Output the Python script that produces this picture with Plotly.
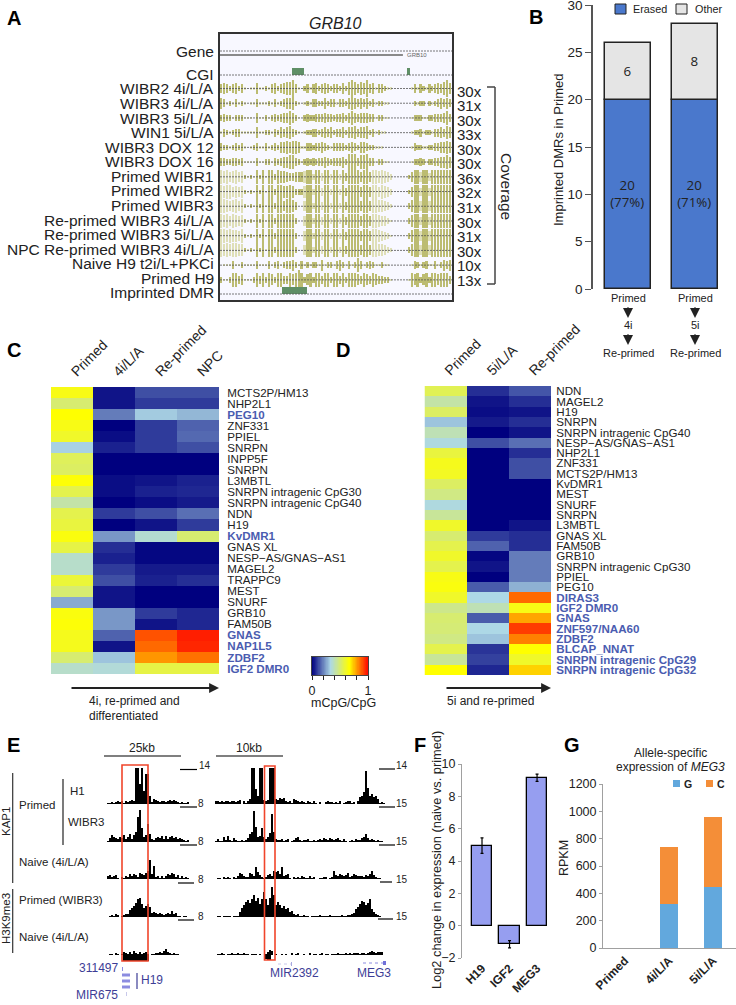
import plotly.graph_objects as go

W, H = 736, 1005
FONT = "Liberation Sans"
DARK = "#222222"
BLUE_LABEL = "#4a5cb0"
GENE_BLUE = "#3d3d96"
RED_BOX = "#f0452b"

# Panel A: coverage tracks, half height in each genome bin
A_LABELS = ["WIBR2 4i/L/A", "WIBR3 4i/L/A", "WIBR3 5i/L/A", "WIN1 5i/L/A", "WIBR3 DOX 12", "WIBR3 DOX 16",
            "Primed WIBR1", "Primed WIBR2", "Primed WIBR3", "Re-primed WIBR3 4i/L/A", "Re-primed WIBR3 5i/L/A",
            "NPC Re-primed WIBR3 4i/L/A", "Naive H9 t2i/L+PKCi", "Primed H9"]
A_COVERAGE = ["30x", "31x", "30x", "33x", "30x", "30x", "36x", "32x", "31x", "30x", "31x", "30x", "10x", "13x"]
A_TRACKS = [
    [3,4,3,2,3,4,2,3,1,0,1,1,4,1,1,2,1,3,4,2,3,4,5,5,6,3,1,0,2,3,1,3,4,2,3,4,3,2,3,3,2,4,2,5,6,5,3,5,4,6,3,4,1,3,3,2,1,1,0,0,0,0,0,0,1,3,1,3,2,1,3,2,3,4,3,5,6,4],
    [4,3,1,2,1,3,1,2,1,0,1,1,3,1,1,1,2,1,3,1,2,3,4,4,5,2,1,0,1,2,1,3,3,2,2,4,2,3,3,1,3,3,2,4,5,4,3,4,3,4,2,3,1,2,2,1,1,0,0,0,0,0,0,0,0,2,1,2,2,0,2,1,2,3,4,3,4,3],
    [2,3,2,2,1,2,2,2,1,1,1,0,4,1,1,2,1,2,3,2,3,4,4,5,4,2,1,0,2,3,2,2,3,3,3,4,3,3,2,3,3,4,2,4,5,4,3,4,4,4,3,3,1,2,2,1,1,0,0,0,0,0,0,0,1,2,2,2,1,1,2,2,3,3,3,4,5,3],
    [1,3,2,1,2,3,3,1,1,1,1,1,4,1,1,2,2,1,3,2,4,3,4,5,3,2,1,0,1,2,2,3,3,2,3,4,3,4,2,3,3,4,2,4,4,5,3,4,4,5,2,3,1,2,1,1,0,0,0,0,0,0,0,0,1,2,2,3,1,2,2,1,3,3,4,3,5,4],
    [3,2,2,1,2,3,2,3,1,0,1,2,3,1,1,3,1,2,3,2,4,4,5,4,5,5,4,1,1,3,3,2,3,3,4,3,2,1,3,3,3,3,2,3,4,3,2,4,4,3,2,2,1,1,1,0,0,0,0,0,0,0,0,0,1,3,2,2,1,1,2,2,3,3,4,4,5,4],
    [3,3,2,2,3,3,2,3,1,1,1,1,3,1,1,2,2,1,3,2,3,4,4,5,5,3,2,1,2,3,2,3,2,3,3,4,3,2,3,3,3,4,2,6,6,6,3,5,5,6,3,3,1,2,2,1,1,0,0,0,0,0,0,0,1,2,2,3,2,1,2,2,3,3,4,4,5,4],
    [7,6,7,5,6,7,5,6,2,1,2,1,7,2,7,1,7,7,3,7,6,6,5,4,4,5,5,5,6,7,7,3,7,7,4,7,7,3,7,7,3,7,4,7,7,7,7,5,7,7,5,7,7,6,7,6,5,3,0,0,0,0,0,2,5,7,7,5,7,7,4,7,7,7,7,7,7,7],
    [7,6,7,7,5,6,5,6,2,1,2,1,7,2,7,1,7,7,3,7,7,6,6,7,6,3,3,3,6,7,7,3,7,7,4,7,7,3,7,7,3,7,4,7,7,7,7,5,7,7,5,7,7,5,7,6,5,3,0,0,0,0,0,2,5,7,7,4,7,7,4,7,7,7,7,7,7,7],
    [7,7,6,5,6,7,5,7,2,1,2,1,7,2,7,1,7,7,3,7,7,5,7,7,6,4,0,0,5,7,7,3,7,7,4,7,7,3,7,7,3,7,4,7,7,7,7,5,7,7,5,7,7,6,6,5,4,2,0,0,0,0,0,3,6,7,7,5,7,7,5,7,7,7,7,7,7,7],
    [7,6,7,5,7,6,5,6,2,1,2,1,7,2,7,1,7,7,3,7,7,7,7,7,7,3,0,0,5,7,7,3,7,7,4,7,7,3,7,7,3,7,4,7,7,7,7,5,7,7,5,7,7,6,5,5,3,1,0,0,0,0,0,3,6,7,7,4,7,7,4,7,7,7,7,7,7,7],
    [7,7,6,7,6,6,5,7,2,1,2,1,7,2,7,1,7,7,3,7,7,7,7,7,7,3,0,0,5,7,7,3,7,7,4,7,7,3,7,7,3,7,4,7,7,7,7,5,7,7,5,7,7,6,5,4,3,1,0,0,0,0,0,3,6,7,7,5,7,7,5,7,7,7,7,7,7,7],
    [7,6,7,6,7,7,6,6,2,1,2,1,7,2,7,1,7,7,3,7,7,7,7,7,7,3,0,0,5,7,7,3,7,7,4,7,7,3,7,7,3,7,4,7,7,7,7,5,7,7,5,7,7,6,6,5,3,2,0,0,0,0,0,3,6,7,7,5,7,7,5,7,7,7,7,7,7,7],
    [0,1,1,1,3,1,1,2,1,1,1,1,3,1,1,1,3,1,2,3,1,2,3,3,4,2,1,3,1,2,1,2,2,1,4,1,2,2,1,3,4,2,1,3,1,2,5,3,1,2,3,2,1,1,2,1,1,0,0,0,0,0,0,0,1,3,2,1,2,3,1,1,3,1,2,4,3,4],
    [2,1,1,2,5,5,3,4,1,1,1,2,5,3,5,2,5,4,2,5,5,3,3,5,4,5,7,5,2,4,5,2,5,5,3,5,5,2,5,5,3,5,2,5,5,5,4,3,5,4,3,5,4,3,3,2,2,1,0,0,0,0,0,1,5,4,5,2,4,5,2,5,5,4,5,5,5,3],
]
# genome bins where the primed tracks read paler in the picture
A_PALE_BINS = [0, 1, 2, 3, 4, 5, 6, 7, 28, 31, 34, 37, 40, 51, 52, 53, 54, 55, 56, 57, 67, 70]
A_CGI_START = [24.2, 62.9]
A_CGI_END = [28.3, 64.0]
A_DMR_START = [20.8]
A_DMR_END = [29.4]

# Panel B
B_GROUPS = ["4i", "5i"]
B_ERASED = [20, 20]
B_OTHER = [6, 8]
B_ERASED_TEXT = ["20<br>(77%)", "20<br>(71%)"]

# Panel C
C_COLUMNS = ["Primed", "4i/L/A", "Re-primed", "NPC"]
C_GENES = ["MCTS2P/HM13", "NHP2L1", "PEG10", "ZNF331", "PPIEL", "SNRPN", "INPP5F", "SNRPN", "L3MBTL",
           "SNRPN intragenic CpG30", "SNRPN intragenic CpG40", "NDN", "H19", "KvDMR1", "GNAS XL",
           "NESP\u2212AS/GNAS\u2212AS1", "MAGEL2", "TRAPPC9", "MEST", "SNURF", "GRB10", "FAM50B", "GNAS",
           "NAP1L5", "ZDBF2", "IGF2 DMR0"]
C_BOLD = ["PEG10", "KvDMR1", "GNAS", "NAP1L5", "ZDBF2", "IGF2 DMR0"]
C_VALUES = [
    [.63, .03, .12, .12], [.50, .03, .09, .09], [.66, .19, .31, .28], [.63, .00, .09, .15],
    [.60, .02, .09, .16], [.32, .05, .09, .12], [.53, .00, .00, .00], [.52, .00, .00, .00],
    [.65, .02, .03, .05], [.55, .02, .05, .06], [.42, .00, .02, .04], [.55, .09, .12, .17],
    [.57, .00, .03, .09], [.64, .23, .36, .50], [.56, .07, .01, .01], [.37, .05, .01, .01],
    [.37, .09, .04, .04], [.58, .12, .05, .07], [.50, .03, .00, .00], [.26, .03, .00, .00],
    [.64, .23, .09, .06], [.65, .23, .03, .06], [.62, .15, .89, .96], [.62, .03, .86, .95],
    [.50, .30, .80, .85], [.37, .35, .56, .56],
]

# Panel D
D_COLUMNS = ["Primed", "5i/L/A", "Re-primed"]
D_GENES = ["NDN", "MAGEL2", "H19", "SNRPN", "SNRPN intragenic CpG40", "NESP\u2212AS/GNAS\u2212AS1", "NHP2L1", "ZNF331",
           "MCTS2P/HM13", "KvDMR1", "MEST", "SNURF", "SNRPN", "L3MBTL", "GNAS XL", "FAM50B", "GRB10",
           "SNRPN intragenic CpG30", "PPIEL", "PEG10", "DIRAS3", "IGF2 DMR0", "GNAS", "ZNF597/NAA60", "ZDBF2",
           "BLCAP_NNAT", "SNRPN intragenic CpG29", "SNRPN intragenic CpG32"]
D_BOLD = ["DIRAS3", "IGF2 DMR0", "GNAS", "ZNF597/NAA60", "ZDBF2", "BLCAP_NNAT", "SNRPN intragenic CpG29",
          "SNRPN intragenic CpG32"]
D_VALUES = [
    [.54, .07, .13], [.42, .03, .07], [.52, .02, .03], [.30, .04, .07], [.40, .00, .03], [.34, .12, .17],
    [.57, .00, .07], [.62, .00, .12], [.61, .00, .12], [.52, .00, .00], [.47, .00, .00], [.34, .00, .00],
    [.44, .00, .00], [.60, .00, .03], [.50, .09, .07], [.55, .15, .07], [.60, .01, .19], [.55, .03, .19],
    [.63, .00, .19], [.64, .14, .27], [.60, .33, .86], [.46, .40, .63], [.50, .14, .78], [.49, .33, .92],
    [.47, .30, .83], [.55, .08, .66], [.44, .10, .60], [.66, .06, .72],
]

COLOR_STEPS = [i / 100 for i in range(101)]
COLOR_TICKS = [0, 0.2, 0.4, 0.6, 0.8, 1]
COLOR_TICK_TEXT = ["0", "", "", "", "", "1"]

# Panel E: signal tracks, left window (25kb) and right window (10kb)
E_H1_LEFT = [1,1,2,1,2,3,2,3,1,3,2,3,4,3,36,36,20,36,13,30,30,8,2,5,4,3,2,3,3,2,3,4,3,4,3,2,1,2,1,1,2,0]
E_WIBR3_LEFT = [1,4,7,5,4,3,5,4,7,3,5,8,3,7,10,25,32,14,5,7,18,8,3,2,4,5,4,6,3,6,3,5,6,4,5,3,4,3,2,1,2,0]
E_NAIVE_KAP1_LEFT = [3,4,2,3,4,1,0,2,1,3,2,5,3,5,4,2,6,5,4,6,8,19,5,13,2,3,1,3,1,3,5,4,6,5,2,4,1,3,1,2,1,0]
E_PRIMED_K9_LEFT = [0,1,2,1,3,2,0,1,2,3,3,7,9,11,14,18,19,13,9,11,13,10,4,5,4,3,4,3,2,3,4,3,6,3,4,1,1,0,1,1,0,0]
E_NAIVE_K9_LEFT = [0,1,1,0,2,1,0,1,3,2,1,3,1,4,2,1,3,1,2,3,1,0,1,1,2,2,3,2,4,6,3,2,1,2,1,1,0,0,0,0,0,0]
E_NAIVE_K9_LEFT_BLOCK = [0,0,0,0,0,0,0,0,6,6,6,6,6,6,6,6,6,6,6,6,6,0,0,0,0,0,0,0,0,0,0,0,0,0,0,0,0,0,0,0,0,0]
E_H1_RIGHT = [3,3,2,3,2,3,3,2,3,3,2,3,4,0,3,1,3,5,36,36,15,8,36,36,4,3,4,36,36,36,5,4,6,5,6,3,2,3,1,5,4,3,2,3,2,1,3,2,1,3,1,0,2,0,0,2,3,2,2,1,2,1,3,0,1,2,3,3,1,2,0,3,7,8,12,33,16,8,10,7,8,5,1,2,1]
E_WIBR3_RIGHT = [1,3,1,1,5,2,6,2,1,4,2,1,1,2,1,2,4,8,10,31,15,5,6,14,5,3,5,9,28,10,3,2,2,3,1,2,3,0,1,2,4,5,2,1,2,2,3,1,1,2,1,2,3,2,4,3,2,4,3,2,3,4,2,1,3,1,0,1,2,1,3,2,2,4,5,8,4,2,3,2,1,2,1,1,0]
E_NAIVE_KAP1_RIGHT = [0,1,1,0,2,1,2,1,0,2,1,3,6,5,3,2,2,6,5,3,12,7,4,2,1,2,4,5,3,8,7,8,5,12,3,4,5,1,0,2,1,2,1,3,2,1,1,3,1,2,0,0,1,1,2,2,0,1,2,8,4,3,5,4,3,4,6,2,3,5,4,3,3,3,2,4,3,5,8,4,2,1,1,0,0]
E_PRIMED_K9_RIGHT = [0,1,1,0,1,1,1,1,0,1,1,1,5,9,12,15,17,14,18,22,16,19,13,18,25,18,12,19,30,22,12,15,12,9,11,8,9,5,6,3,2,3,1,1,2,1,1,0,1,1,1,1,2,1,1,1,1,2,1,1,1,1,1,2,1,1,2,2,3,4,8,10,13,16,15,12,14,18,8,5,3,2,1,0,0]
E_NAIVE_K9_RIGHT = [0,1,1,2,1,0,1,1,2,1,1,2,1,1,2,1,1,0,1,1,1,0,1,0,0,1,3,5,4,0,1,0,0,1,0,1,0,0,2,0,1,2,0,0,1,0,0,2,0,1,1,0,1,2,0,1,1,0,1,1,1,2,1,1,1,2,1,2,1,2,2,2,1,2,2,1,2,3,4,3,2,3,3,3,0]
E_NAIVE_K9_RIGHT_BLOCK = [0,0,0,0,0,0,0,0,0,0,0,0,0,0,0,0,0,0,0,0,0,0,0,0,0,4,5,5,0,0,0,0,0,0,0,0,0,0,0,0,0,0,0,0,0,0,0,0,0,0,0,0,0,0,0,0,0,0,0,0,0,0,0,0,0,0,0,0,0,0,0,0,0,0,0,0,0,0,0,0,0,0,0,0,0]
E_LEFT_TRACKS = [E_H1_LEFT, E_WIBR3_LEFT, E_NAIVE_KAP1_LEFT, E_PRIMED_K9_LEFT, E_NAIVE_K9_LEFT]
E_RIGHT_TRACKS = [E_H1_RIGHT, E_WIBR3_RIGHT, E_NAIVE_KAP1_RIGHT, E_PRIMED_K9_RIGHT, E_NAIVE_K9_RIGHT]

# Panel F
F_GENES = ["H19", "IGF2", "MEG3"]
F_VALUES = [4.95, -1.15, 9.15]
F_ERRORS = [0.48, 0.22, 0.22]

# Panel G
G_GROUPS = ["Primed", "4i/L/A", "5i/L/A"]
G_G_ALLELE = [0, 320, 445]
G_C_ALLELE = [0, 420, 510]


def px_x(x):
    return x / W


def px_y(y):
    return 1 - y / H


shapes = []
annotations = []


def note(x, y, text, size=12, anchor="left", color=DARK, angle=0, family=FONT):
    annotations.append(dict(x=px_x(x), y=px_y(y), xref="paper", yref="paper", text=text, showarrow=False,
                            xanchor=anchor, yanchor="middle", textangle=angle, borderpad=0,
                            font=dict(size=size, color=color, family=family)))


def line(x0, y0, x1, y1, color=DARK, width=1.5, dash="solid"):
    shapes.append(dict(type="line", xref="paper", yref="paper", x0=px_x(x0), y0=px_y(y0), x1=px_x(x1), y1=px_y(y1),
                       line=dict(color=color, width=width, dash=dash)))


def rect(x0, y0, x1, y1, fill="rgba(0,0,0,0)", border=None, width=0, layer="above"):
    shapes.append(dict(type="rect", xref="paper", yref="paper", x0=px_x(x0), y0=px_y(y0), x1=px_x(x1), y1=px_y(y1),
                       fillcolor=fill, layer=layer, line=dict(color=border or fill, width=width)))


def arrow(x0, y0, x1, y1, width=2.0, size=1.0):
    # ax/ay are pixel offsets from the head to the tail
    annotations.append(dict(x=px_x(x1), y=px_y(y1), ax=x0 - x1, ay=y0 - y1, xref="paper", yref="paper",
                            text="", showarrow=True, arrowhead=2, arrowsize=size,
                            arrowwidth=width, arrowcolor=DARK))


def domain_x(x0, x1):
    return [px_x(x0), px_x(x1)]


def domain_y(y0, y1):
    return [px_y(y1), px_y(y0)]


def gene_ticks(genes, bold):
    out = []
    for g in genes:
        out.append(f'<span style="color:{BLUE_LABEL}"><b>{g}</b></span>' if g in bold else g)
    return out


fig = go.Figure()

# Panel A
rect(220, 34, 452, 300, fill="#f8f8ff", layer="below")
a_centers = [88.5 + 14.72 * i for i in range(len(A_TRACKS))]
for row, (center, track) in enumerate(zip(a_centers, A_TRACKS)):
    primed_row = 6 <= row <= 11
    stretch = 1.0 if primed_row else 1.35
    colors = []
    for i, h in enumerate(track):
        pale = h <= 1 or (primed_row and i in A_PALE_BINS)
        colors.append("#dfdfb8" if pale else "#bcbc72")
    fig.add_trace(go.Bar(x=[i + 0.5 for i in range(len(track))], y=[2 * stretch * h for h in track],
                         base=[center - stretch * h for h in track], width=0.55, marker=dict(color=colors, line_width=0),
                         xaxis="x", yaxis="y", showlegend=False))
for y in [51, 75, 294] + a_centers:
    fig.add_trace(go.Scatter(x=[0, 78], y=[y, y], mode="lines", line=dict(color="#555555", width=0.8, dash="2px,1px"),
                             xaxis="x", yaxis="y", showlegend=False))
fig.add_trace(go.Scatter(x=[0, 61.5], y=[55, 55], mode="lines", line=dict(color="#8a8a8a", width=2),
                         xaxis="x", yaxis="y", showlegend=False))
fig.add_trace(go.Bar(x=[(a + b) / 2 for a, b in zip(A_CGI_START, A_CGI_END)], y=[7, 7], base=[68, 68],
                     width=[b - a for a, b in zip(A_CGI_START, A_CGI_END)], marker=dict(color="#5f8f66", line_width=0),
                     xaxis="x", yaxis="y", showlegend=False))
fig.add_trace(go.Bar(x=[(a + b) / 2 for a, b in zip(A_DMR_START, A_DMR_END)], y=[7], base=[287],
                     width=[b - a for a, b in zip(A_DMR_START, A_DMR_END)], marker=dict(color="#5f8f66", line_width=0),
                     xaxis="x", yaxis="y", showlegend=False))

note(335, 23, "<i>GRB10</i>", size=16, anchor="center")
note(406, 55, "GRB10", size=6, color="#666666")
note(215, 52, "Gene", size=15.5, anchor="right")
note(215, 74, "CGI", size=15.5, anchor="right")
note(215, 293, "Imprinted DMR", size=15.5, anchor="right")
for i, (label, cov) in enumerate(zip(A_LABELS, A_COVERAGE)):
    note(215, 89 + 14.56 * i, label, size=15.5, anchor="right")
    note(456, 91 + 14.56 * i, cov, size=15)
line(487, 87, 495, 87, color="#444444")
line(495, 87, 495, 284, color="#444444")
line(487, 284, 495, 284, color="#444444")
note(507, 186, "Coverage", size=15.5, anchor="center", angle=90)

# Panel B
fig.add_trace(go.Bar(x=[0, 1], y=B_ERASED, width=0.687, marker=dict(color="#4a78cc", line=dict(color=DARK, width=1.5)),
                     text=B_ERASED_TEXT, textposition="inside", insidetextanchor="middle", textangle=0,
                     textfont=dict(family="Open Sans", size=13.3, color=DARK), xaxis="x2", yaxis="y2", showlegend=False))
fig.add_trace(go.Bar(x=[0, 1], y=B_OTHER, base=B_ERASED, width=0.687,
                     marker=dict(color="#e5e5e5", line=dict(color=DARK, width=1.5)), text=B_OTHER,
                     textposition="inside", insidetextanchor="middle", textangle=0,
                     textfont=dict(family="Open Sans", size=13.3, color=DARK), xaxis="x2", yaxis="y2", showlegend=False))
rect(615, 4, 626, 14, fill="#4a78cc", border=DARK, width=1)
note(632, 9, "Erased", size=10.8)
rect(676, 4, 687, 14, fill="#e5e5e5", border=DARK, width=1)
note(694, 9, "Other", size=10.8)
note(558, 150, "Imprinted DMRs in Primed", size=13, anchor="center", angle=-90)
for cx, group in zip([628, 695], B_GROUPS):
    note(cx, 298, "Primed", size=11, anchor="center")
    arrow(cx, 306, cx, 318)
    note(cx, 325, group, size=11, anchor="center")
    arrow(cx, 333, cx, 345)
    note(cx, 353, "Re-primed", size=11, anchor="center")

# Panels C and D, with the shared colour key drawn as its own small heatmap
fig.add_trace(go.Heatmap(z=C_VALUES, x=list(range(len(C_COLUMNS))), y=list(range(len(C_GENES))), coloraxis="coloraxis",
                         xaxis="x3", yaxis="y3"))
fig.add_trace(go.Heatmap(z=D_VALUES, x=list(range(len(D_COLUMNS))), y=list(range(len(D_GENES))), coloraxis="coloraxis",
                         xaxis="x4", yaxis="y4"))
fig.add_trace(go.Heatmap(z=[COLOR_STEPS], x=COLOR_STEPS, y=[0], coloraxis="coloraxis", xaxis="x9", yaxis="y9"))
note(343, 703, "mCpG/CpG", size=12.5, anchor="center")
arrow(70, 688, 219, 688, width=2.2, size=0.9)
note(88, 701, "4i, re-primed and", size=12)
note(88, 716, "differentiated", size=12)
arrow(445, 688, 551, 688, width=2.2, size=0.9)
note(446, 701, "5i and re-primed", size=12)

# Panel E
e_baselines = [804, 842, 879, 917, 955]
for base, track in zip(e_baselines, E_LEFT_TRACKS):
    fig.add_trace(go.Bar(x=[i + 0.5 for i in range(len(track))], y=[-h for h in track], base=base, width=1,
                         marker=dict(color="black", line_width=0), xaxis="x5", yaxis="y5", showlegend=False))
for base, track in zip(e_baselines, E_RIGHT_TRACKS):
    fig.add_trace(go.Bar(x=[i + 0.5 for i in range(len(track))], y=[-h for h in track], base=base, width=1,
                         marker=dict(color="black", line_width=0), xaxis="x6", yaxis="y6", showlegend=False))
fig.add_trace(go.Bar(x=[i + 0.5 for i in range(len(E_NAIVE_K9_LEFT_BLOCK))], y=E_NAIVE_K9_LEFT_BLOCK, base=955, width=1,
                     marker=dict(color="black", line_width=0), xaxis="x5", yaxis="y5", showlegend=False))
fig.add_trace(go.Bar(x=[i + 0.5 for i in range(len(E_NAIVE_K9_RIGHT_BLOCK))], y=E_NAIVE_K9_RIGHT_BLOCK, base=955, width=1,
                     marker=dict(color="black", line_width=0), xaxis="x6", yaxis="y6", showlegend=False))
rect(122, 765, 148, 961, border=RED_BOX, width=1.6)
rect(264.5, 766, 275, 960, border=RED_BOX, width=1.6)
line(104, 756, 181, 756, color="black", width=1.2)
note(142, 748, "25kb", size=12, anchor="center")
line(216, 756, 283, 756, color="black", width=1.2)
note(249, 748, "10kb", size=12, anchor="center")
line(180, 769.5, 197, 769.5, color="black", width=1.2)
note(198, 765, "14", size=10)
line(379, 769, 395, 769, color="black", width=1.2)
note(395, 765, "14", size=10)
for y_line, y_text, x0, x1 in [(807, 803, 180, 197), (845, 841, 180, 197), (883, 879, 178, 194), (920, 916, 178, 194)]:
    line(x0, y_line, x1, y_line, color="black", width=1.2)
    note(197, y_text, "8", size=10)
for y_line, y_text, x0, x1 in [(807, 803, 379, 395), (845, 841, 379, 395), (882, 879, 380, 392), (919, 916, 378, 393)]:
    line(x0, y_line, x1, y_line, color="black", width=1.2)
    note(395, y_text, "15", size=10)
note(6, 822, "KAP1", size=11.5, anchor="center", angle=-90)
line(12.7, 773, 12.7, 883, color="#333333", width=1.2)
note(6, 919, "H3K9me3", size=11.5, anchor="center", angle=-90)
line(12.7, 889, 12.7, 953, color="#333333", width=1.2)
note(18, 805, "Primed", size=11.5)
line(63, 779, 63, 845, color="#222222", width=1.2)
note(69, 791, "H1", size=11.5)
note(67, 822, "WIBR3", size=11.5)
note(18, 862, "Naive (4i/L/A)", size=11.5)
note(18, 900, "Primed (WIBR3)", size=11.5)
note(18, 937, "Naive (4i/L/A)", size=11.5)
note(119, 968, "311497", size=12, anchor="right", color=GENE_BLUE)
note(119, 995, "MIR675", size=12, anchor="right", color=GENE_BLUE)
note(140, 980, "H19", size=12, color=GENE_BLUE)
line(137, 973, 137, 989, color=GENE_BLUE, width=1.2)
for y in [975, 981, 987]:
    rect(122, y - 1.5, 130, y + 1.5, fill="#8c8ce0")
rect(122, 967, 123, 971, fill="#8c8ce0")
rect(126, 992, 127, 996, fill="#c8c8ea")
note(294, 973, "MIR2392", size=12, anchor="center", color=GENE_BLUE)
line(278, 964, 291, 964, color="#c8c8ea", width=1, dash="dot")
rect(291, 962, 292, 966, fill="#a8a8e0")
note(374, 973, "MEG3", size=12, anchor="center", color=GENE_BLUE)
line(363, 963, 384, 963, color="#8c8ce0", width=1, dash="dot")
rect(383, 961, 386, 965, fill="#7070d8")

# Panel F
fig.add_trace(go.Bar(x=[0, 1, 2], y=F_VALUES, width=0.73, marker=dict(color="#969ef0", line=dict(color="black", width=1.3)),
                     error_y=dict(type="data", array=F_ERRORS, color="black", thickness=1.2, width=1.5),
                     xaxis="x7", yaxis="y7", showlegend=False))
note(436, 860, "Log2 change in expression (naive vs. primed)", size=12.8, anchor="center", angle=-90)

# Panel G
fig.add_trace(go.Bar(x=[0, 1, 2], y=G_G_ALLELE, width=0.4, marker=dict(color="#62a8dd", line_width=0),
                     xaxis="x8", yaxis="y8", showlegend=False))
fig.add_trace(go.Bar(x=[0, 1, 2], y=G_C_ALLELE, base=G_G_ALLELE, width=0.4, marker=dict(color="#f48e38", line_width=0),
                     xaxis="x8", yaxis="y8", showlegend=False))
note(670, 753, "Allele-specific", size=12, anchor="center")
note(670, 767, "expression of <i>MEG3</i>", size=12, anchor="center")
rect(673, 780, 680, 787, fill="#62a8dd")
note(683, 784, "<b>G</b>", size=10.5)
rect(706, 780, 713, 787, fill="#f48e38")
note(716, 784, "<b>C</b>", size=10.5)
note(564, 858, "RPKM", size=12.5, anchor="center", angle=-90)

for letter, x, y in [("A", 6, 18), ("B", 528, 17), ("C", 6, 350), ("D", 335, 350), ("E", 6, 745), ("F", 413, 745), ("G", 563, 745)]:
    note(x, y, f"<b>{letter}</b>", size=20, color="black")

hide = dict(showgrid=False, zeroline=False, showticklabels=False, ticks="")
tick_font = dict(family=FONT, size=12.5, color=DARK)
heat_label = dict(family=FONT, size=11.6, color=DARK)

fig.update_layout(
    template="none", width=W, height=H, margin=dict(l=0, r=0, t=0, b=0, pad=0), paper_bgcolor="white", plot_bgcolor="rgba(0,0,0,0)",
    barmode="overlay", bargap=0, font=dict(family=FONT, color=DARK), shapes=shapes, annotations=annotations,
    coloraxis=dict(cmin=0, cmax=1, showscale=False,
                   colorscale=[[0, "#00007f"], [0.33, "#add8e6"], [0.66, "#ffff00"], [1, "#ff0000"]]),
    xaxis=dict(domain=domain_x(220, 452), range=[0, 78], showline=True, mirror=True, linecolor="#333333", linewidth=1.5, **hide),
    yaxis=dict(domain=domain_y(34, 300), range=[300, 34], showline=True, mirror=True, linecolor="#333333", linewidth=1.5, **hide),
    xaxis2=dict(domain=domain_x(593, 726), range=[-0.522, 1.46], anchor="y2", **hide),
    yaxis2=dict(domain=domain_y(5, 289), range=[0, 30], anchor="x2", showgrid=False, zeroline=False, showline=True,
                linecolor="#555555", linewidth=1.5, ticks="outside", ticklen=6, tickcolor="#555555", dtick=5,
                ticklabeloverflow="allow", tickfont=dict(family=FONT, size=13.5, color=DARK)),
    xaxis3=dict(domain=domain_x(51, 219), range=[-0.5, 3.5], anchor="y3", side="top", tickvals=[0, 1, 2, 3], ticktext=C_COLUMNS,
                tickangle=-45, ticks="outside", ticklen=1, tickcolor="rgba(0,0,0,0)", showgrid=False, zeroline=False,
                tickfont=dict(family=FONT, size=14)),
    yaxis3=dict(domain=domain_y(387, 674), range=[25.5, -0.5], anchor="x3", side="right", tickvals=list(range(26)),
                ticktext=gene_ticks(C_GENES, C_BOLD), ticks="outside", ticklen=5, tickcolor="rgba(0,0,0,0)", showgrid=False,
                zeroline=False, tickfont=heat_label),
    xaxis4=dict(domain=domain_x(424.5, 551), range=[-0.5, 2.5], anchor="y4", side="top", tickvals=[0, 1, 2], ticktext=D_COLUMNS,
                tickangle=-45, ticks="outside", ticklen=1, tickcolor="rgba(0,0,0,0)", showgrid=False, zeroline=False,
                tickfont=dict(family=FONT, size=14)),
    yaxis4=dict(domain=domain_y(386, 675), range=[27.5, -0.5], anchor="x4", side="right", tickvals=list(range(28)),
                ticktext=gene_ticks(D_GENES, D_BOLD), ticks="outside", ticklen=2, tickcolor="rgba(0,0,0,0)", showgrid=False,
                zeroline=False, tickfont=heat_label),
    xaxis5=dict(domain=domain_x(107, 191), range=[0, 42], anchor="y5", **hide),
    yaxis5=dict(domain=domain_y(760, 965), range=[965, 760], anchor="x5", **hide),
    xaxis6=dict(domain=domain_x(215, 385), range=[0, 85], anchor="y6", **hide),
    yaxis6=dict(domain=domain_y(760, 965), range=[965, 760], anchor="x6", **hide),
    xaxis7=dict(domain=domain_x(462, 550), range=[-0.727, 2.47], anchor="y7", tickvals=[0, 1, 2],
                ticktext=[f"<b>{g}</b>" for g in F_GENES], tickangle=-45, showgrid=False, zeroline=False, showline=False,
                ticks="", tickfont=dict(family=FONT, size=12, color=DARK)),
    yaxis7=dict(domain=domain_y(764, 958), range=[-2, 10], anchor="x7", dtick=2, showgrid=False, zeroline=False, showline=True,
                linecolor="#a0a0a0", ticks="outside", ticklen=3, tickcolor="#a0a0a0", tickfont=tick_font),
    xaxis8=dict(domain=domain_x(603, 736), range=[-0.5, 2.52], anchor="y8", tickvals=[0, 1, 2],
                ticktext=[f"<b>{g}</b>" for g in G_GROUPS], tickangle=-45, showgrid=False, zeroline=False, showline=True,
                linecolor="#a0a0a0", ticks="", tickfont=dict(family=FONT, size=12, color=DARK)),
    yaxis8=dict(domain=domain_y(784, 948), range=[0, 1200], anchor="x8", dtick=200, showgrid=False, zeroline=False, showline=True,
                linecolor="#a0a0a0", ticks="outside", ticklen=3, tickcolor="#a0a0a0", tickfont=tick_font),
    xaxis9=dict(domain=domain_x(312, 368), range=[0, 1], anchor="y9", tickvals=COLOR_TICKS, ticktext=COLOR_TICK_TEXT, ticks="outside",
                ticklen=4, tickcolor=DARK, showgrid=False, zeroline=False, showline=True, mirror=True, linecolor="#444444",
                tickfont=dict(family=FONT, size=12.5, color=DARK)),
    yaxis9=dict(domain=domain_y(657, 675), range=[-0.5, 0.5], anchor="x9", showline=True, mirror=True, linecolor="#444444", **hide),
)

# the browser's default body margin would push the figure 8px off the page
fig.write_html("out.html", config={"displayModeBar": False}, post_script="document.body.style.margin='0';")
